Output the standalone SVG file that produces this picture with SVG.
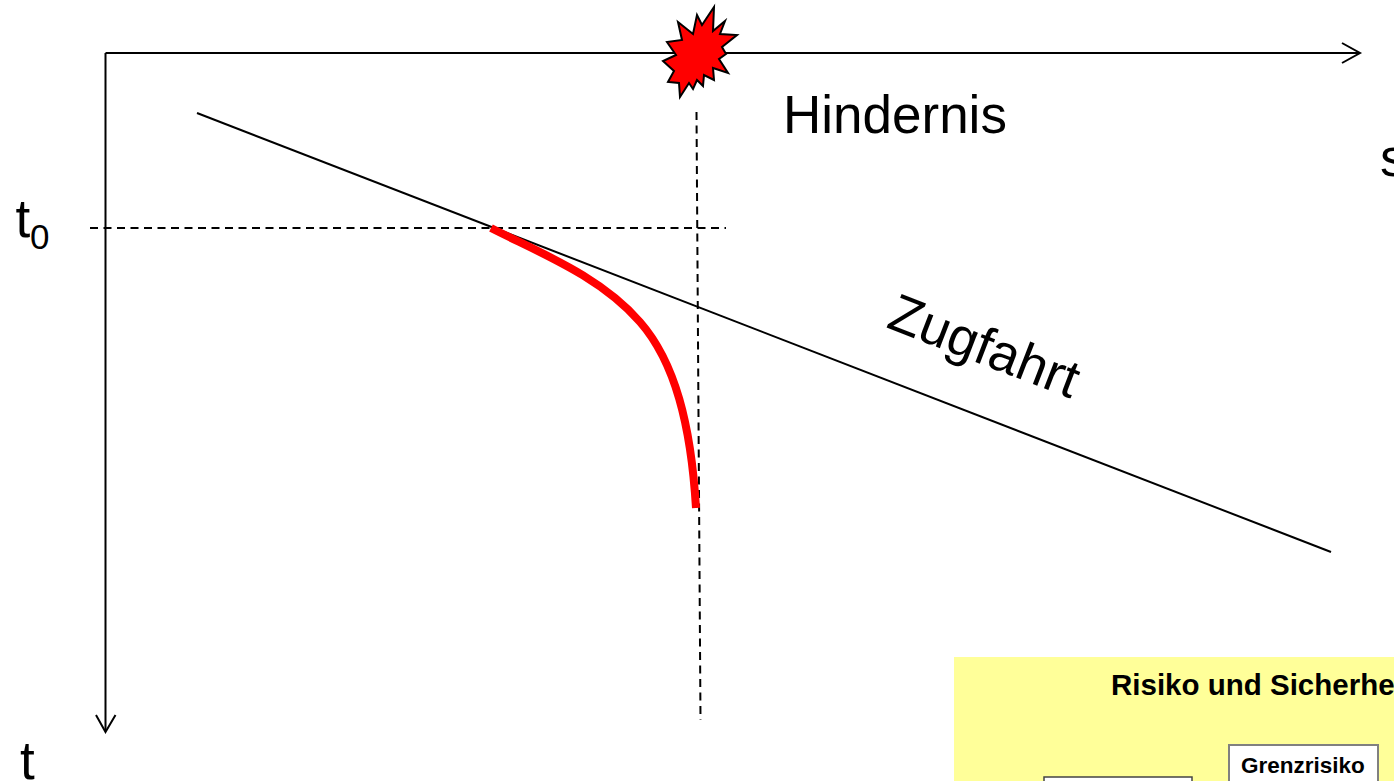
<svg xmlns="http://www.w3.org/2000/svg" width="1394" height="781" viewBox="0 0 1394 781">
<style>
.l{fill:none;stroke:#000;stroke-width:2}
.d{fill:none;stroke:#000;stroke-width:2;stroke-dasharray:8 5.5}
.t{font-family:"Liberation Sans",Arial,sans-serif;fill:#000}
.b{font-family:"Liberation Sans",Arial,sans-serif;font-weight:bold;fill:#000}
.box{fill:#fff;stroke:#808080;stroke-width:2}
</style>
<rect width="1394" height="781" fill="#fff"/>
<g id="connectors">
<path class="l" d="M105.5 53H1359M105.5 53V731"/>
<path class="l" d="M1342 43L1360 53L1342 63M96 715L105.5 732L115.5 715"/>
<path class="l" d="M197 113L1331 552"/>
<path class="d" d="M90 228H726"/>
<path class="d" d="M696.5 112L700.5 720"/>
<path fill="none" stroke="#f00" stroke-width="8" d="M491 228C540 253 600 276 640 322C675 362 691 425 696 508"/>
</g>
<g id="hindernis">
<polygon fill="#f00" stroke="#000" stroke-width="2" points="714,7 713,31 725,21 720,34 737,35 722,47 726,54 719,59 728,73 713,68 714,80 704,75 703,86 697,80 693,89 689,83 680,97 679,83 668,82 674,71 663,61 676,55 667,42 682,40 678,22 693,34 697,15 702,25"/>
<text class="t" x="783" y="133" font-size="53">Hindernis</text>
</g>
<g id="zugfahrt"><text class="t" transform="translate(885 327) rotate(21.1)" font-size="53.5">Zugfahrt</text></g>
<g id="axis-labels">
<text class="t" x="15.5" y="237" font-size="53">t</text>
<text class="t" x="30" y="249" font-size="35">0</text>
<text class="t" x="20" y="779" font-size="53">t</text>
<text class="t" x="1380" y="176" font-size="53">s</text>
</g>
<g id="risiko-panel">
<rect x="954" y="657" width="440" height="124" fill="#ff9"/>
<text class="b" x="1111" y="695" font-size="29.5">Risiko und Sicherhe</text>
</g>
<g id="grenzrisiko">
<rect class="box" x="1229" y="745" width="149" height="40"/>
<text class="b" x="1241" y="773" font-size="22.5">Grenzrisiko</text>
</g>
<g id="box-2"><rect x="1044" y="777" width="148" height="10" fill="#fff" stroke="#444" stroke-width="1.5"/></g>
</svg>
